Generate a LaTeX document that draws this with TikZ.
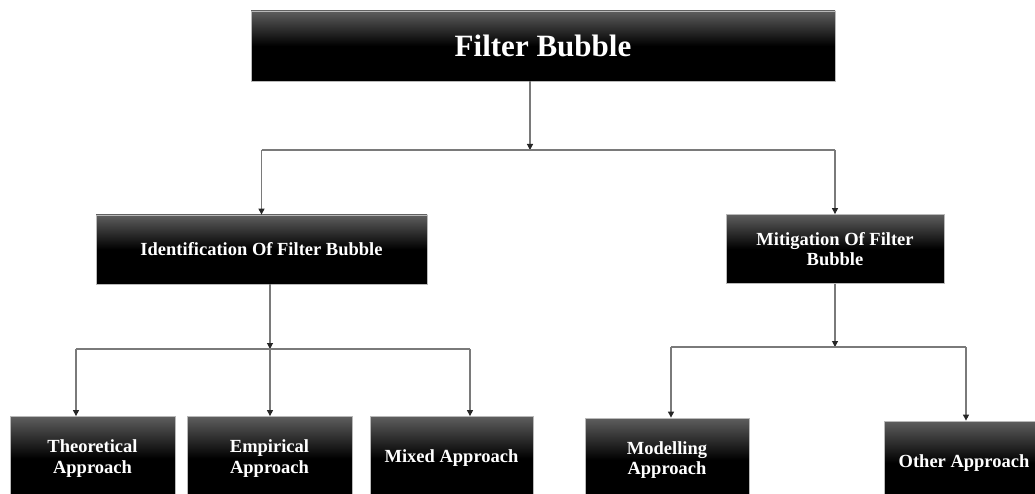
\documentclass[tikz,border=0pt]{standalone}
\usepackage{fontspec}
\setmainfont{Liberation Serif}
\usetikzlibrary{arrows.meta}
\definecolor{boxtop}{HTML}{5E5E5E}
\definecolor{wire}{HTML}{7A7A7A}
\begin{document}
\begin{tikzpicture}[x=1pt,y=-1pt,
  box/.style={draw=gray!55, line width=0.8pt,
    top color=boxtop, bottom color=black, middle color=black,
    text=white, align=center, inner sep=0pt,
    font=\bfseries\fontsize{18.5}{20.5}\selectfont},
  titlebox/.style={box, font=\bfseries\fontsize{31}{34}\selectfont},
  wireline/.style={draw=wire, line width=1.1pt},
  wirearrow/.style={wireline, -{Triangle[length=6pt,width=6pt,color=black!85]}}
]
\useasboundingbox (0,0) rectangle (1035,494);
\clip (0,0) rectangle (1035,494);

% boxes
\node[titlebox, minimum width=584pt, minimum height=70pt] (title) at (543,46) {Filter Bubble};

\node[box, minimum width=331pt, minimum height=69pt] (ident) at (261.5,249.5) {Identification Of Filter Bubble};
\node[box, minimum width=218pt, minimum height=69pt] (mitig) at (835,249) {Mitigation Of Filter\\Bubble};

\node[box, minimum width=165pt, minimum height=84pt] (theo)  at (92.5,458.5) {Theoretical\\Approach};
\node[box, minimum width=165pt, minimum height=84pt] (emp)   at (269.5,458.5) {Empirical\\Approach};
\node[box, minimum width=163pt, minimum height=84pt] (mixed) at (451.5,458.5) {Mixed Approach};
\node[box, minimum width=164pt, minimum height=84pt] (model) at (667,460) {Modelling\\Approach};
\node[box, minimum width=160pt, minimum height=84pt] (other) at (964,463) {Other Approach};

% junction points
\coordinate (j0) at (530,150);
\coordinate (j1) at (270,349);
\coordinate (t1) at (76,349);
\coordinate (t3) at (470,349);
\coordinate (j2) at (835,347);
\coordinate (m1) at (671,347);
\coordinate (m2) at (966,347);

% first level
\draw[wirearrow] (title.south -| j0) -- (j0);
\draw[wireline] (ident.north |- j0) -- (mitig.north |- j0);
\draw[wirearrow] (ident.north |- j0) -- (ident.north);
\draw[wirearrow] (mitig.north |- j0) -- (mitig.north);

% identification branch
\draw[wirearrow] (ident.south -| j1) -- (j1);
\draw[wireline] (t1) -- (t3);
\draw[wirearrow] (t1) -- (t1 |- theo.north);
\draw[wirearrow] (j1) -- (j1 |- emp.north);
\draw[wirearrow] (t3) -- (t3 |- mixed.north);

% mitigation branch
\draw[wirearrow] (mitig.south) -- (j2);
\draw[wireline] (m1) -- (m2);
\draw[wirearrow] (m1) -- (m1 |- model.north);
\draw[wirearrow] (m2) -- (m2 |- other.north);
\end{tikzpicture}
\end{document}
